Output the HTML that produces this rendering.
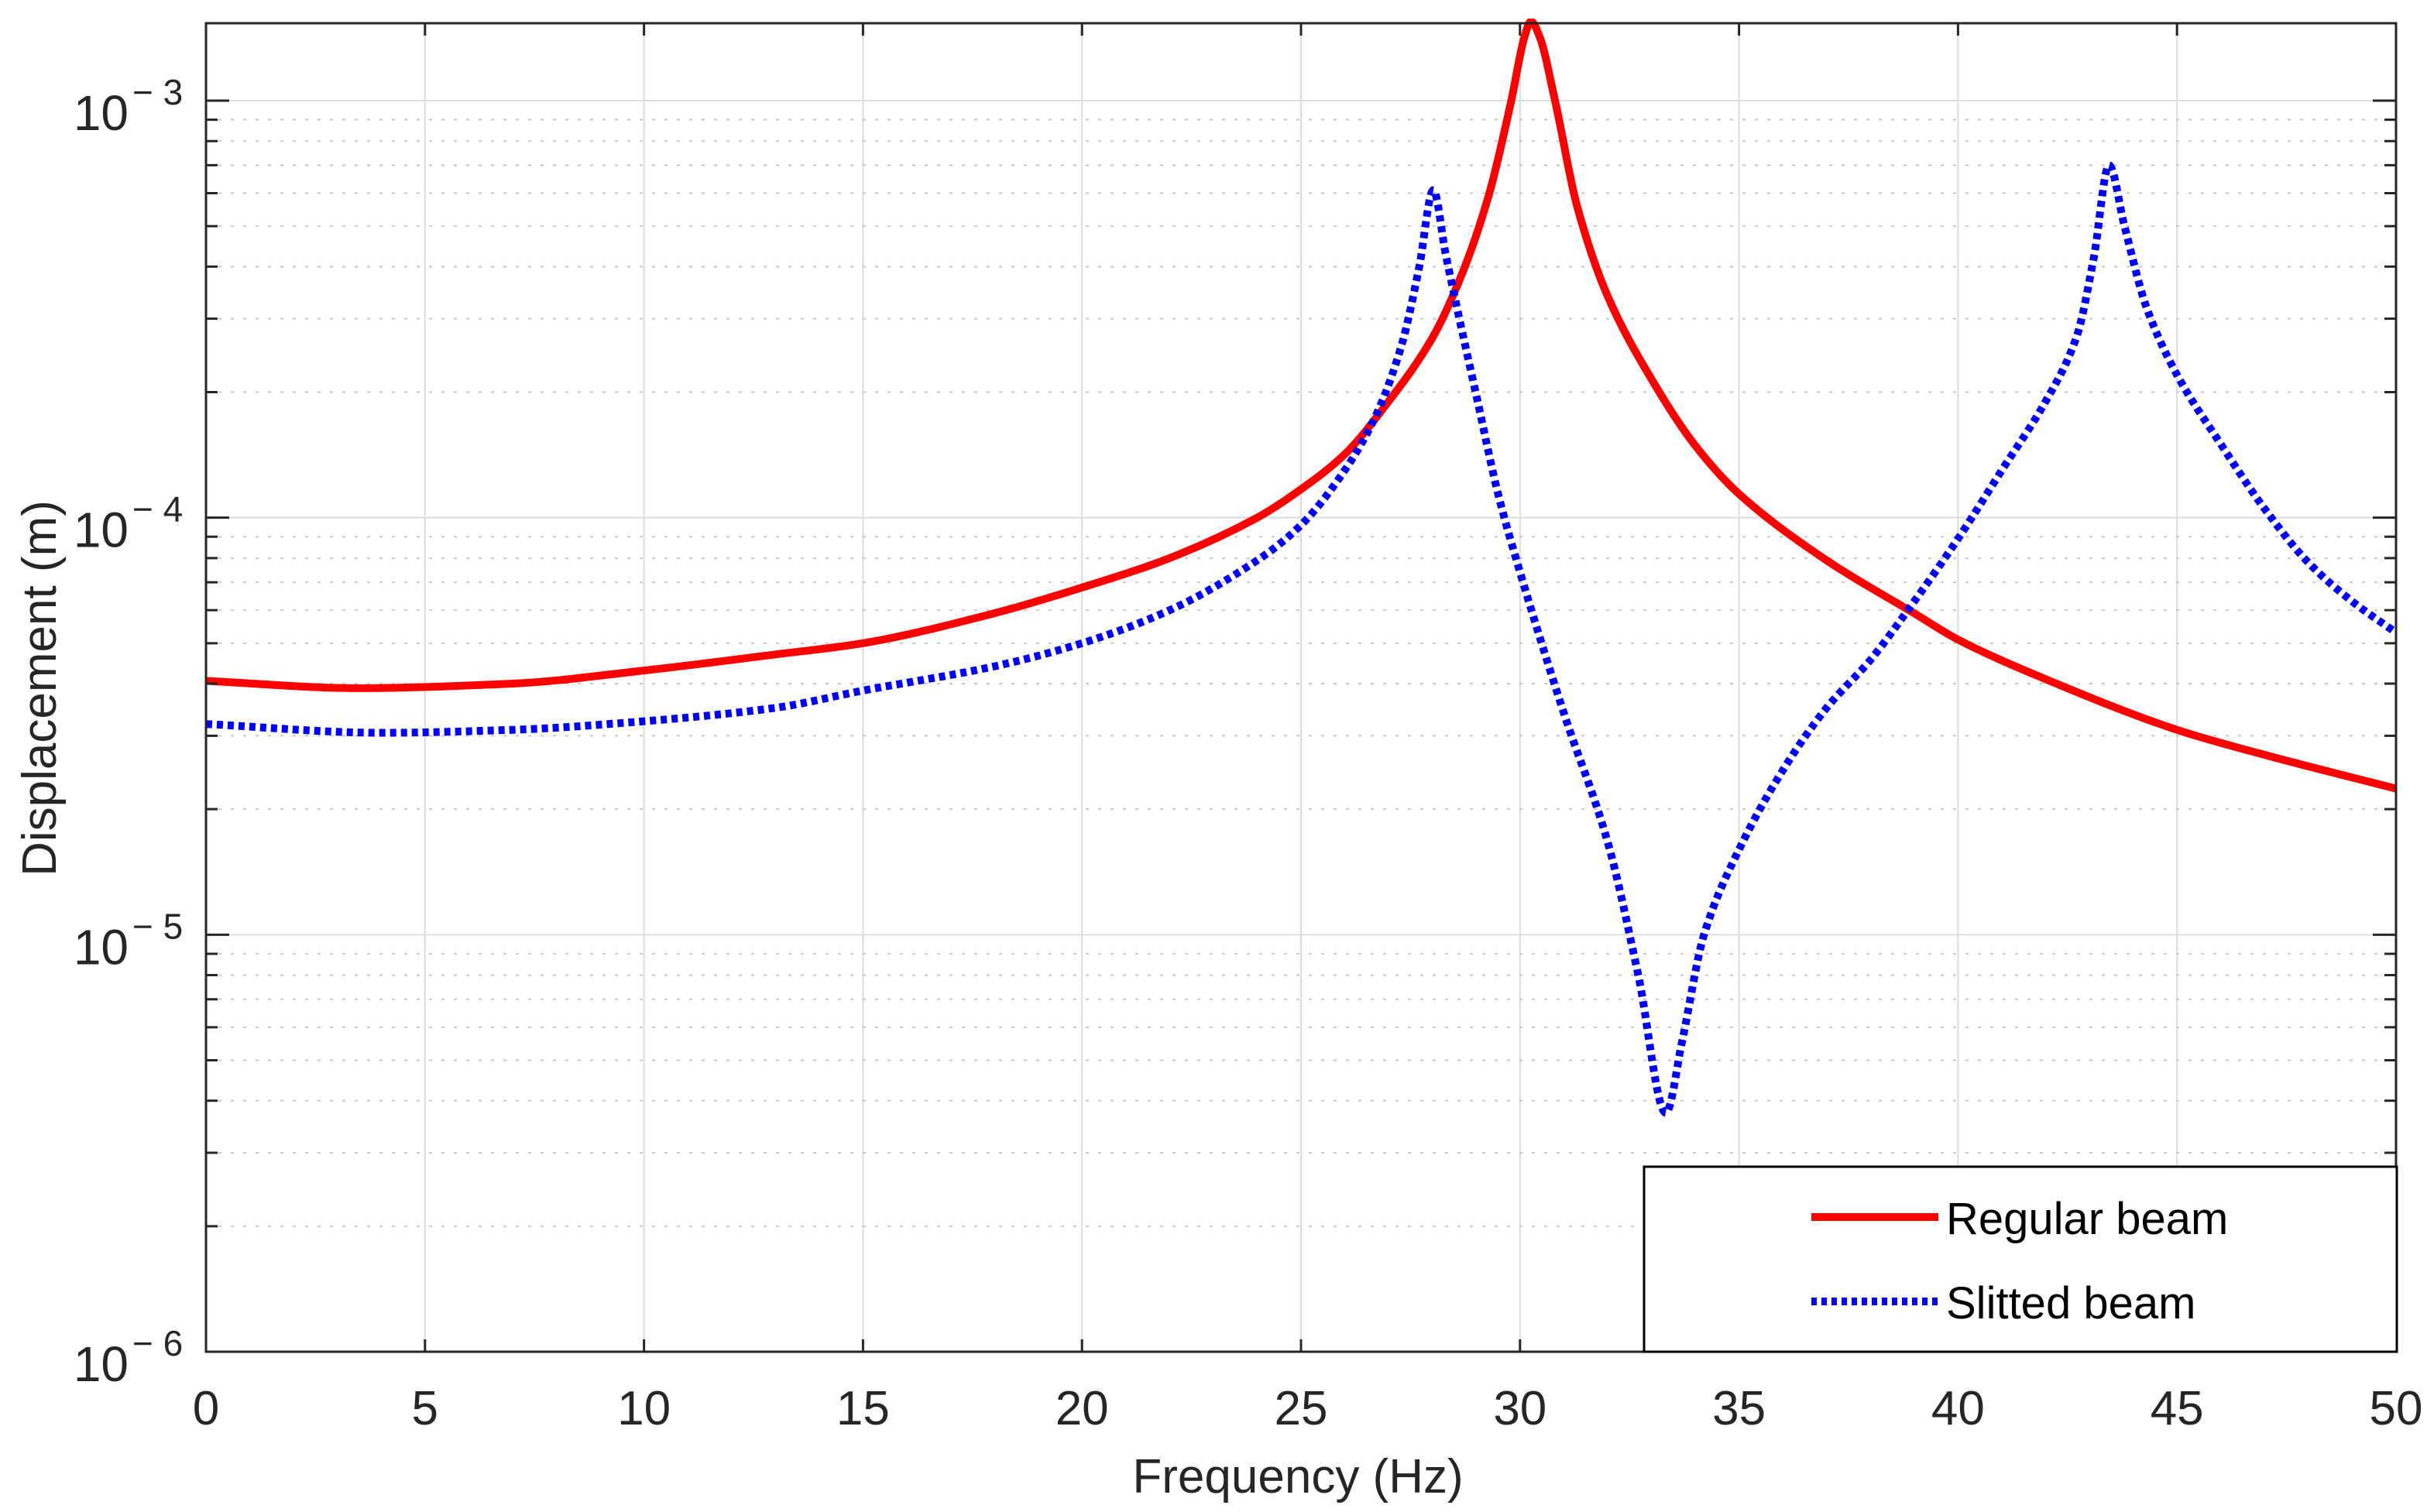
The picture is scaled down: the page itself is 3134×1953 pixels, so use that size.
<!DOCTYPE html>
<html><head><meta charset="utf-8"><style>
html,body{margin:0;padding:0;background:#fff;}
svg{display:block;font-family:"Liberation Sans",Arial,sans-serif;}
</style></head><body>
<svg id="chart" width="3134" height="1953" viewBox="0 0 3134 1953" xmlns="http://www.w3.org/2000/svg">
<rect x="0" y="0" width="3134" height="1953" fill="#fff"/>
<g id="grid"></g>
<g id="series"></g>
<g id="axes"></g>
<text x="1676" y="1928" font-size="62" fill="#262626" text-anchor="middle">Frequency (Hz)</text>
<text transform="translate(72,889) rotate(-90)" font-size="62" fill="#262626" text-anchor="middle">Displacement (m)</text>
<g>
<rect x="2123" y="1507" width="972" height="239" fill="#fff" stroke="#000" stroke-width="3"/>
<g>
<line x1="2339" y1="1572" x2="2503" y2="1572" stroke="#ff0000" stroke-width="10"/>
<text x="2513" y="1594" font-size="58" fill="#000">Regular beam</text>
</g>
<g>
<line x1="2339" y1="1681" x2="2503" y2="1681" stroke="#0000ff" stroke-width="10" stroke-dasharray="7,6"/>
<text x="2513" y="1703" font-size="58" fill="#000">Slitted beam</text>
</g>
</g>
</svg>
<script>
const xTicks = [0,5,10,15,20,25,30,35,40,45,50];
const yDecades = [-6,-5,-4,-3];
const regularFreq = [0,3.5,7,10,13,15,18,20,22,24,25,26,27,28,28.7,29.3,29.8,30.1,30.25,30.45,30.8,31.3,32,33,34,35,37,39,40,42,45,47,50];
const regularDisp = [4.06e-5,3.9e-5,4.0e-5,4.3e-5,4.7e-5,5.0e-5,5.9e-5,6.8e-5,8.0e-5,1.0e-4,1.17e-4,1.42e-4,1.9e-4,2.7e-4,3.9e-4,6.0e-4,1.0e-3,1.42e-3,1.55e-3,1.42e-3,1.0e-3,5.6e-4,3.4e-4,2.15e-4,1.49e-4,1.14e-4,7.9e-5,5.9e-5,5.1e-5,4.1e-5,3.1e-5,2.7e-5,2.24e-5];
const slittedFreq = [0,4,7,10,13,15,18,20,22,24,25,26,26.7,27.3,27.7,28.02,28.3,28.6,29,29.5,30,31,32,32.7,33.33,33.7,34.2,35,36,37,38,39,40,41,42,42.7,43.1,43.45,43.8,44.3,45,46,47,48,49,50];
const slittedDisp = [3.2e-5,3.05e-5,3.1e-5,3.25e-5,3.5e-5,3.85e-5,4.4e-5,5.0e-5,6.0e-5,7.9e-5,9.6e-5,1.3e-4,1.75e-4,2.6e-4,4.0e-4,6.1e-4,4.3e-4,3.05e-4,1.97e-4,1.14e-4,7.4e-5,3.4e-5,1.67e-5,8.0e-6,3.74e-6,5.55e-6,1.0e-5,1.6e-5,2.48e-5,3.5e-5,4.56e-5,6.3e-5,8.9e-5,1.3e-4,1.9e-4,2.7e-4,4.2e-4,7.0e-4,5.0e-4,3.2e-4,2.2e-4,1.5e-4,1.05e-4,7.8e-5,6.3e-5,5.3e-5];

const L=266,R=3094,T=30,B=1746;
const X0=0,X1=50, LOG0=-6, LOG1=-3+(130-30)/538.7;
function xs(v){return L+(v-X0)/(X1-X0)*(R-L);}
function ys(v){return B-(Math.log10(v)-LOG0)/(LOG1-LOG0)*(B-T);}
const NS="http://www.w3.org/2000/svg";
function mk(tag,attrs,parent){const e=document.createElementNS(NS,tag);for(const k in attrs)e.setAttribute(k,attrs[k]);parent.appendChild(e);return e;}
const grid=document.getElementById('grid'),axes=document.getElementById('axes'),series=document.getElementById('series');

xTicks.forEach(t=>{
  const x=xs(t);
  if(t>X0&&t<X1){
    const g=mk('line',{x1:x,y1:T,x2:x,y2:B,stroke:'#dcdcdc','stroke-width':2},grid);
    
    
  }
  const tk=mk('path',{d:`M${x},${B}V${B-16}M${x},${T}V${T+16}`,stroke:'#262626','stroke-width':3},axes);
  
  
  const lb=mk('text',{x:x,y:1840,'font-size':62,fill:'#262626','text-anchor':'middle'},axes);
  lb.textContent=String(t);
  
  
});
yDecades.forEach(d=>{
  const y=ys(Math.pow(10,d));
  if(d>LOG0){
    const g=mk('line',{x1:L,y1:y,x2:R,y2:y,stroke:'#dcdcdc','stroke-width':2},grid);
    
    
  }
  const tk=mk('path',{d:`M${L},${y}H${L+30}M${R},${y}H${R-30}`,stroke:'#262626','stroke-width':3},axes);
  
  
  const lb=mk('text',{x:166,y:y+38,'font-size':64,fill:'#262626','text-anchor':'end'},axes);
  lb.textContent='10';
  
  
  const sp=mk('text',{x:171,y:y+5,'font-size':46,fill:'#262626'},axes);
  sp.textContent='\u2212 '+String(-d);
  
  
  for(let m=2;m<=9;m++){
    const v=m*Math.pow(10,d);
    const ym=ys(v);
    if(ym<T)continue;
    const g=mk('line',{x1:L,y1:ym,x2:R,y2:ym,stroke:'#c8c8c8','stroke-width':2,'stroke-dasharray':'4,12'},grid);
    
    
    const mt=mk('path',{d:`M${L},${ym}H${L+15}M${R},${ym}H${R-15}`,stroke:'#262626','stroke-width':3},axes);
    
    
  }
});
const frame=mk('rect',{x:L,y:T,width:R-L,height:B-T,fill:'none',stroke:'#262626','stroke-width':3},axes);



function pathFor(fx,fy){
  const P=fx.map((f,i)=>[xs(f),ys(fy[i])]);
  const n=P.length, m=[];
  const dl=[];
  for(let i=0;i<n-1;i++)dl.push((P[i+1][1]-P[i][1])/(P[i+1][0]-P[i][0]));
  for(let i=0;i<n;i++){
    if(i===0)m.push(dl[0]);else if(i===n-1)m.push(dl[n-2]);
    else if(dl[i-1]*dl[i]<=0)m.push(0);
    else m.push(2/(1/dl[i-1]+1/dl[i]));
  }
  let d='M'+P[0][0].toFixed(1)+','+P[0][1].toFixed(1);
  for(let i=0;i<n-1;i++){
    const h=(P[i+1][0]-P[i][0])/3;
    d+='C'+(P[i][0]+h).toFixed(1)+','+(P[i][1]+m[i]*h).toFixed(1)+' '+(P[i+1][0]-h).toFixed(1)+','+(P[i+1][1]-m[i+1]*h).toFixed(1)+' '+P[i+1][0].toFixed(1)+','+P[i+1][1].toFixed(1);
  }
  return d;
}
const clip=mk('clipPath',{id:'plotclip'},series);
mk('rect',{x:L,y:T-6,width:R-L,height:B-T+6},clip);
const red=mk('path',{d:pathFor(regularFreq,regularDisp),fill:'none',stroke:'#ff0000','stroke-width':10,'stroke-linejoin':'round','clip-path':'url(#plotclip)'},series);


const blue=mk('path',{d:pathFor(slittedFreq,slittedDisp),fill:'none',stroke:'#0000ff','stroke-width':10,'stroke-dasharray':'8,6','clip-path':'url(#plotclip)'},series);


</script>
</body></html>
